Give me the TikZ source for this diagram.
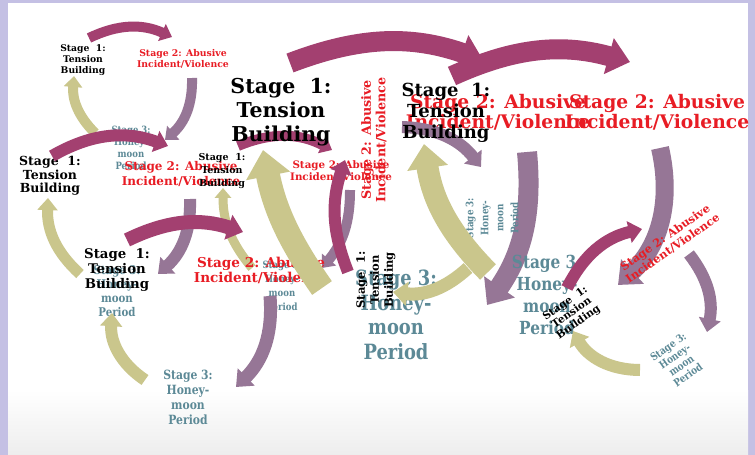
\documentclass[tikz,border=0pt]{standalone}
\usepackage{fontspec}
\setmainfont{DejaVu Serif}
\newfontfamily\condfont[FakeStretch=0.85]{DejaVu Serif}
\usetikzlibrary{arrows.meta}

\definecolor{cyclemag}{RGB}{163,64,112}
\definecolor{cyclemauve}{RGB}{150,118,150}
\definecolor{cycleolive}{RGB}{202,198,140}
\definecolor{abusered}{RGB}{232,28,36}
\definecolor{honeyteal}{RGB}{92,137,150}
\definecolor{framelav}{RGB}{196,192,228}

\newcommand{\fsz}[2]{\fontsize{#1}{#2}\selectfont\bfseries}

\begin{document}
\begin{tikzpicture}[x=1pt,y=-1pt,
    sweep/.style={line width=#1,-{Triangle[length=0pt 1.1,width=0pt 1.8]}},
    toabuse/.style={sweep=#1,draw=cyclemag},
    tohoney/.style={sweep=#1,draw=cyclemauve},
    totension/.style={sweep=#1,draw=cycleolive}]
  \tikzstyle{every node}=[align=center,inner sep=0pt]
  \tikzstyle{stageone}=[text=black]
  \tikzstyle{stagetwo}=[text=abusered]
  \tikzstyle{stagethree}=[text=honeyteal]

  \fill[framelav] (0,0) rectangle (755,455);
  \fill[white] (8,3) rectangle (748,455);
  \shade[top color=white,bottom color=black!7] (8,390) rectangle (748,455);

  % small cycle, top left
  \node[stageone,font=\fsz{9.2}{11}]            (a1) at (83,60)   {Stage~~1:\\Tension\\Building};
  \node[stagetwo,font=\fsz{9.3}{10.5}]          (a2) at (183,59)  {Stage 2: Abusive\\Incident/Violence};
  \node[stagethree,font=\condfont\fsz{10}{12}]  (a3) at (131,148) {Stage 3:\\Honey-\\moon\\Period};
  \draw[toabuse=10]   ([shift={(6,-22)}]a1.center)   to[bend left=25] ([shift={(-11,-22)}]a2.center);
  \draw[tohoney=10]   ([shift={(9,19)}]a2.center)    to[bend left=25] ([shift={(34,-8)}]a3.center);
  \draw[totension=10] ([shift={(-36,-15)}]a3.center) to[bend left=25] ([shift={(-9,16)}]a1.center);

  % left cycle
  \node[stageone,font=\fsz{12.5}{13.5}]         (b1) at (50,176)  {Stage~~1:\\Tension\\Building};
  \node[stagetwo,font=\fsz{12}{15}]             (b2) at (181,174) {Stage 2: Abusive\\Incident/Violence};
  \node[stagethree,font=\condfont\fsz{12}{14}]  (b3) at (117,291) {Stage 3:\\Honey-\\moon\\Period};
  \draw[toabuse=12]   ([shift={(2,-20)}]b1.center)   to[bend left=25] ([shift={(-13,-28)}]b2.center);
  \draw[tohoney=12]   ([shift={(9,25)}]b2.center)    to[bend left=25] ([shift={(41,-17)}]b3.center);
  \draw[totension=11] ([shift={(-37,-17)}]b3.center) to[bend left=25] ([shift={(-2,22)}]b1.center);

  % small cycle, middle
  \node[stageone,font=\fsz{9.5}{13}]            (m1) at (222,171) {Stage~~1:\\Tension\\Building};
  \node[stagetwo,font=\fsz{10.3}{12}]           (m2) at (341,171) {Stage 2: Abusive\\Incident/Violence};
  \node[stagethree,font=\condfont\fsz{10}{14}]  (m3) at (282,286) {Stage 3:\\Honey-\\moon\\Period};
  \draw[toabuse=10]   ([shift={(16,-25)}]m1.center)  to[bend left=25] ([shift={(-9,-21)}]m2.center);
  \draw[tohoney=10]   ([shift={(9,19)}]m2.center)    to[bend left=20] ([shift={(40,-18)}]m3.center);
  \draw[totension=9]  ([shift={(-30,-18)}]m3.center) to[bend left=20] ([shift={(1,17)}]m1.center);

  % bottom left cycle
  \node[stageone,font=\fsz{13.3}{15}]             (c1) at (117,270) {Stage~~1:\\Tension\\Building};
  \node[stagetwo,font=\fsz{13.6}{15}]             (c2) at (261,270) {Stage 2: Abusive\\Incident/Violence};
  \node[stagethree,font=\condfont\fsz{12.7}{15}]  (c3) at (188,397) {Stage 3:\\Honey-\\moon\\Period};
  \draw[toabuse=14]   ([shift={(10,-30)}]c1.center)  to[bend left=22] ([shift={(-18,-38)}]c2.center);
  \draw[tohoney=13]   ([shift={(9,26)}]c2.center)    to[bend left=25] ([shift={(48,-10)}]c3.center);
  \draw[totension=12] ([shift={(-43,-17)}]c3.center) to[bend left=30] ([shift={(-5,43)}]c1.center);

  % big cycle, centre
  \node[stageone,font=\fsz{20.5}{24}]             (d1) at (281,112) {Stage~~1:\\Tension\\Building};
  \node[stagetwo,font=\fsz{18.7}{20}]             (d2) at (498,112) {Stage 2: Abusive\\Incident/Violence};
  \node[stagethree,font=\condfont\fsz{21}{24.5}]  (d3) at (396,315) {Stage 3:\\Honey-\\moon\\Period};
  \draw[toabuse=20]   ([shift={(9,-49)}]d1.center)   to[bend left=20] ([shift={(-15,-52)}]d2.center);
  \draw[tohoney=20]   ([shift={(29,40)}]d2.center)   to[bend left=20] ([shift={(91,-10)}]d3.center);
  \draw[totension=24] ([shift={(-74,-27)}]d3.center) to[bend left=12] ([shift={(-18,38)}]d1.center);

  % turned cycle, centre
  \node[stageone,rotate=90,font=\fsz{11.5}{14}]             (r1) at (376,280) {Stage~~1:\\Tension\\Building};
  \node[stagetwo,rotate=90,font=\fsz{12.7}{14.5}]           (r2) at (374,140) {Stage 2: Abusive\\Incident/Violence};
  \node[stagethree,rotate=90,font=\condfont\fsz{10.3}{15}]  (r3) at (492,218) {Stage 3:\\Honey-\\moon\\Period};
  \draw[toabuse=12]   ([shift={(-28,-8)}]r1.center)  to[bend left=20] ([shift={(-29,20)}]r2.center);
  \draw[tohoney=12]   ([shift={(28,-13)}]r2.center)  to[bend left=25] ([shift={(-11,-51)}]r3.center);
  \draw[totension=13] ([shift={(-24,50)}]r3.center)  to[bend left=25] ([shift={(17,12)}]r1.center);

  % big cycle, right
  \node[stageone,font=\fsz{18}{21}]             (e1) at (446,113) {Stage~~1:\\Tension\\Building};
  \node[stagetwo,font=\fsz{18.7}{20}]           (e2) at (657,112) {Stage 2: Abusive\\Incident/Violence};
  \node[stagethree,font=\condfont\fsz{18}{22}]  (e3) at (547,295) {Stage 3:\\Honey-\\moon\\Period};
  \draw[toabuse=20]   ([shift={(6,-37)}]e1.center)   to[bend left=20] ([shift={(-27,-50)}]e2.center);
  \draw[tohoney=18]   ([shift={(3,36)}]e2.center)    to[bend left=30] ([shift={(71,-10)}]e3.center);
  \draw[totension=22] ([shift={(-59,-23)}]e3.center) to[bend left=18] ([shift={(-22,31)}]e1.center);

  % tilted cycle, bottom right
  \node[stageone,rotate=35,font=\fsz{10.5}{11.5}]             (g1) at (572,313) {Stage~~1:\\Tension\\Building};
  \node[stagetwo,rotate=35,font=\fsz{11.3}{13}]               (g2) at (669,243) {Stage 2: Abusive\\Incident/Violence};
  \node[stagethree,rotate=35,font=\condfont\fsz{10.5}{11.5}]  (g3) at (678,361) {Stage 3:\\Honey-\\moon\\Period};
  \draw[toabuse=12]   ([shift={(-5,-25)}]g1.center)  to[bend left=25] ([shift={(-27,-14)}]g2.center);
  \draw[tohoney=12]   ([shift={(20,11)}]g2.center)   to[bend left=25] ([shift={(29,-29)}]g3.center);
  \draw[totension=12] ([shift={(-38,9)}]g3.center)   to[bend left=30] ([shift={(1,18)}]g1.center);
\end{tikzpicture}
\end{document}
